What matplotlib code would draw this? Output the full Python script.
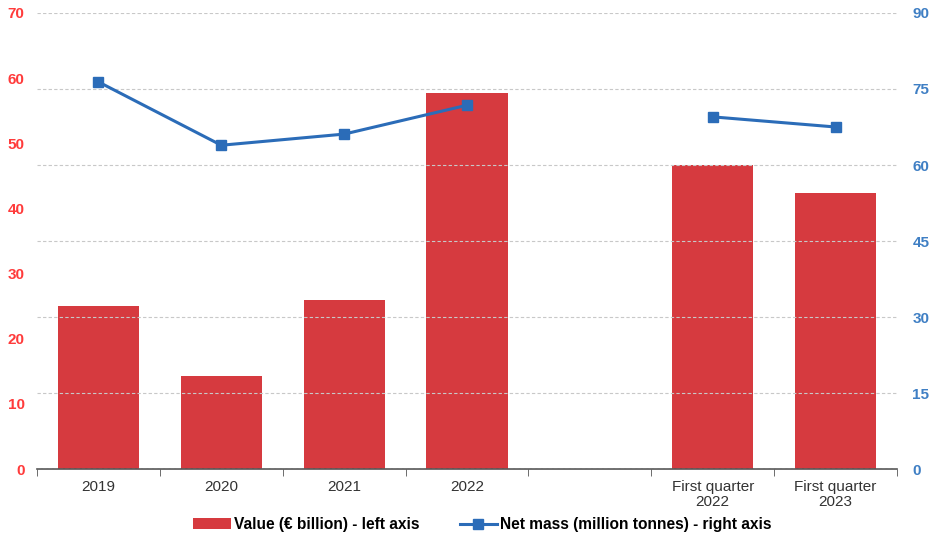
import numpy as np
import matplotlib.pyplot as plt

plt.rcParams['font.family'] = ['Liberation Sans', 'DejaVu Sans']

categories = ["2019", "2020", "2021", "2022", "", "First quarter\n2022", "First quarter\n2023"]
value_bn = [25.0, 14.3, 25.9, 57.7, np.nan, 46.7, 42.4]
net_mass_mt = [76.4, 63.9, 66.1, 71.8, np.nan, 69.5, 67.5]

red = "#d63a3f"
blue = "#2b6cb8"

fig = plt.figure(figsize=(9.33, 5.41), dpi=100)
ax = fig.add_axes([0.0397, 0.133, 0.9217, 0.843])
ax2 = ax.twinx()

x = np.arange(len(categories))
ax.bar(x, np.nan_to_num(value_bn), width=0.66, color=red, zorder=2,
       label="Value (€ billion) - left axis")
ax2.plot(x, net_mass_mt, color=blue, lw=2.2, marker="s", ms=7,
         label="Net mass (million tonnes) - right axis")

ax.set_xlim(-0.5, len(categories) - 0.5)
ax.set_ylim(0, 70)
ax2.set_ylim(0, 90)
ax.set_yticks(range(0, 71, 10))
ax2.set_yticks(range(0, 91, 15))

# gridlines follow the right axis
ax2.grid(axis="y", color="#c8c8c8", ls=(0, (3, 2)), lw=0.8)
ax.set_zorder(ax2.get_zorder() - 1)
ax2.patch.set_visible(False)
ax.patch.set_visible(False)
ax2.set_zorder(1)

for a in (ax, ax2):
    for s in ("top", "left", "right"):
        a.spines[s].set_visible(False)
ax2.spines["bottom"].set_visible(False)
ax.spines["bottom"].set_color("#555555")
ax.spines["bottom"].set_linewidth(1.2)

ax.set_xticks(x)
ax.set_xticklabels(categories, fontsize=11, color="#333333", linespacing=1.1)
ax.set_xticks(np.arange(-0.5, len(categories), 1), minor=True)
ax.tick_params(axis="x", which="major", length=0, pad=8)
ax.tick_params(axis="x", which="minor", length=5, color="#555555", direction="out")

ax.tick_params(axis="y", length=0, labelcolor="#ff3b3b", labelsize=11, pad=9)
ax2.tick_params(axis="y", length=0, labelcolor="#3f7fc4", labelsize=11, pad=11)
for t in ax.get_yticklabels():
    t.set_fontweight("bold")
for t in ax2.get_yticklabels():
    t.set_fontweight("bold")

h1, l1 = ax.get_legend_handles_labels()
h2, l2 = ax2.get_legend_handles_labels()
fig.legend(h1 + h2, l1 + l2, loc="center", bbox_to_anchor=(0.517, 0.03), ncol=2,
           frameon=False, fontsize=11.2, handlelength=2.4, columnspacing=2.6,
           handletextpad=0.2)
for t in fig.legends[0].get_texts():
    t.set_fontweight("bold")

fig.savefig("out.png", dpi=100)
